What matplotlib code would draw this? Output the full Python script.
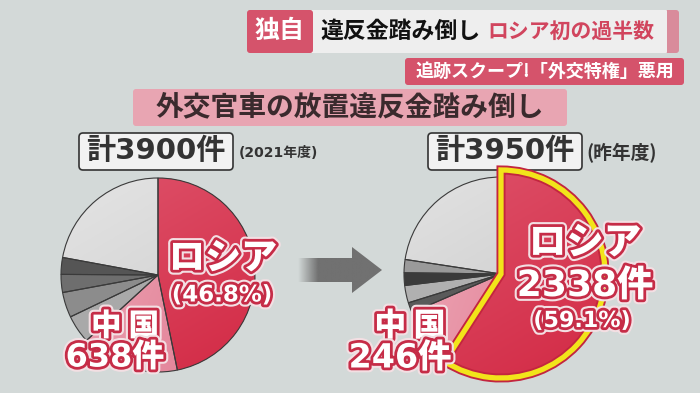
import numpy as np
import matplotlib
matplotlib.use('Agg')
import matplotlib.pyplot as plt
import matplotlib.patheffects as pe
from matplotlib.patches import FancyBboxPatch, Wedge, Polygon
from matplotlib.colors import LinearSegmentedColormap, to_rgb

plt.rcParams['font.family'] = ['Noto Sans CJK JP', 'DejaVu Sans']
NUM = ['DejaVu Sans', 'Noto Sans CJK JP']   # wide digits, CJK fallback

## data (shares in %, clockwise from 12 o'clock)
left_shares  = [46.8, 16.4, 4.7, 4.2, 3.0, 2.8, 22.1]
left_colors  = ['#d6304a', '#e88a9c', '#a9a9a9', '#8c8c8c', '#6e6e6e', '#555555', '#d8d8d8']
right_shares = [59.1, 9.4, 1.7, 2.9, 2.1, 2.2, 22.6]
right_colors = ['#d6304a', '#e88a9c', '#5a5a5a', '#b0b0b0', '#3a3a3a', '#9a9a9a', '#d6d6d6']

left_total, left_year = '計3900件', '(2021年度)'
right_total, right_year = '計3950件', '(昨年度)'
left_russia_pct = '(46.8%)'
left_china_cnt = '638件'
right_russia_cnt, right_russia_pct = '2338件', '(59.1%)'
right_china_cnt = '246件'

BG = '#d3d9d8'
RED = '#d5536b'
HALO = [pe.Stroke(linewidth=7, foreground='#f3dfe3'),
        pe.Stroke(linewidth=4, foreground='#c62c47'), pe.Normal()]

fig = plt.figure(figsize=(7, 3.93), dpi=100, facecolor=BG)
ax = fig.add_axes([0, 0, 1, 1])
ax.set_facecolor(BG)


def shade(patch, c1, c2, box, ang=45):
    # linear gradient clipped to a patch
    x0, x1, y0, y1 = box
    xx, yy = np.meshgrid(np.linspace(0, 1, 120), np.linspace(0, 1, 120))
    a = np.radians(ang)
    t = xx * np.cos(a) + yy * np.sin(a)
    t = (t - t.min()) / (t.max() - t.min())
    cm = LinearSegmentedColormap.from_list('g', [c1, c2])
    im = ax.imshow(t, cmap=cm, extent=(x0, x1, y1, y0), origin='upper',
                   interpolation='bilinear', zorder=patch.get_zorder() + 0.1)
    im.set_clip_path(patch)


def outline(w, color='#3a3a3a', lw=0.8, z=4):
    ax.add_patch(Wedge(w.center, w.r, w.theta1, w.theta2, fill=False,
                       edgecolor=color, linewidth=lw, zorder=z))


## left pie
lc, lr = (158, 275), 97
lw_, _ = ax.pie(left_shares, colors=left_colors, startangle=-90, counterclock=True,
                center=lc, radius=lr, wedgeprops=dict(linewidth=0))
box = (lc[0] - lr, lc[0] + lr, lc[1] - lr, lc[1] + lr)
shade(lw_[0], '#de536b', '#d32a45', box, 60)
shade(lw_[1], '#eeaab8', '#e07890', box, 20)
shade(lw_[6], '#e4e4e4', '#cccccc', box, 60)
for w in lw_:
    outline(w)

## right pie
rc, rr = (501, 274), 97
rw_, _ = ax.pie(right_shares, colors=right_colors, startangle=-90, counterclock=True,
                center=rc, radius=rr, wedgeprops=dict(linewidth=0))
box = (rc[0] - rr, rc[0] + rr, rc[1] - rr, rc[1] + rr)
shade(rw_[1], '#eeaab8', '#e07890', box, 20)
shade(rw_[6], '#e2e2e2', '#c8c8c8', box, 60)
for w in rw_[1:]:
    outline(w)
ru = rw_[0]
ru.set_radius(104)
ru.set_zorder(6)
box = (rc[0] - 104, rc[0] + 104, rc[1] - 104, rc[1] + 104)
shade(ru, '#de536b', '#d32a45', box, 60)
ax.add_patch(Wedge(ru.center, ru.r, ru.theta1, ru.theta2, fill=False,
                   edgecolor='#c3253f', linewidth=6.5, joinstyle='miter', zorder=7))
ax.add_patch(Wedge(ru.center, ru.r, ru.theta1, ru.theta2, fill=False,
                   edgecolor='#f2e41a', linewidth=3.8, joinstyle='miter', zorder=7.1))

## arrow with faded tail
arr = Polygon([(298, 258), (352, 258), (352, 247), (382, 270), (352, 293), (352, 282), (298, 282)],
              closed=True, facecolor='none', edgecolor='none')
ax.add_patch(arr)
g = np.zeros((10, 200, 4))
g[..., :3] = to_rgb('#717171')
g[..., 3] = np.clip((np.linspace(298, 382, 200) - 298) / 20, 0, 1)
im = ax.imshow(g, extent=(298, 382, 293, 247), origin='upper', zorder=3)
im.set_clip_path(arr)

## header boxes
def rbox(x0, y0, x1, y1, fc, ec='none', lw=0, pad=3, z=2):
    ax.add_patch(FancyBboxPatch((x0 + pad, y0 + pad), x1 - x0 - 2 * pad, y1 - y0 - 2 * pad,
                                boxstyle='round,pad=%d' % pad, facecolor=fc,
                                edgecolor=ec, linewidth=lw, zorder=z))

rbox(660, 10, 679, 53, '#d98b9b')
rbox(300, 10, 667, 53, '#eeeeee', pad=1)
rbox(247, 10, 313, 53, RED)
ax.text(280, 31, '独自', fontsize=18, color='white', fontweight='bold', ha='center', va='center', zorder=5)
ax.text(320, 31, '違反金踏み倒し', fontsize=16.5, color='#111111', fontweight='bold', ha='left', va='center', zorder=5)
ax.text(487, 31, 'ロシア初の過半数', fontsize=15, color='#d1455e', fontweight='bold', ha='left', va='center', zorder=5)

rbox(405, 58, 684, 85, RED)
ax.text(545, 71, '追跡スクープ!「外交特権」悪用', fontsize=13, color='white', fontweight='bold',
        ha='center', va='center', zorder=5)

rbox(133, 89, 567, 126, '#e8a5b2')
ax.text(350, 107, '外交官車の放置違反金踏み倒し', fontsize=20, color='#3a2a2d', fontweight='bold',
        ha='center', va='center', zorder=5)

## totals
rbox(79, 133, 233, 170, '#f2f2f2', ec='#333333', lw=1.2, pad=4)
ax.text(156, 151, left_total, fontsize=21, family=NUM, color='#333333', fontweight='bold',
        ha='center', va='center', zorder=5)
ax.text(239, 153, left_year, fontsize=10, family=NUM, color='#333333', fontweight='bold',
        ha='left', va='center', zorder=5)
rbox(428, 133, 582, 170, '#f2f2f2', ec='#333333', lw=1.2, pad=4)
ax.text(505, 151, right_total, fontsize=21, family=NUM, color='#333333', fontweight='bold',
        ha='center', va='center', zorder=5)
ax.text(586, 153, right_year, fontsize=13.5, color='#333333', fontweight='bold',
        ha='left', va='center', zorder=5)

## slice labels
def label(x, y, s, size, fam=None):
    ax.text(x, y, s, fontsize=size, color='white', fontweight='heavy', family=fam,
            ha='center', va='center', path_effects=HALO, zorder=10)

label(223, 258, 'ロシア', 26)
label(222, 295, left_russia_pct, 16.5, NUM)
label(125, 326, '中 国', 22)
label(115, 358, left_china_cnt, 23, NUM)

label(585, 243, 'ロシア', 27)
label(585, 286, right_russia_cnt, 26, NUM)
label(582, 321, right_russia_pct, 16, NUM)
label(410, 326, '中 国', 23)
label(400, 358, right_china_cnt, 24, NUM)

ax.set_xlim(0, 700)
ax.set_ylim(393, 0)
ax.set_aspect('auto')
ax.axis('off')
fig.savefig('out.png', dpi=100, facecolor=BG)
